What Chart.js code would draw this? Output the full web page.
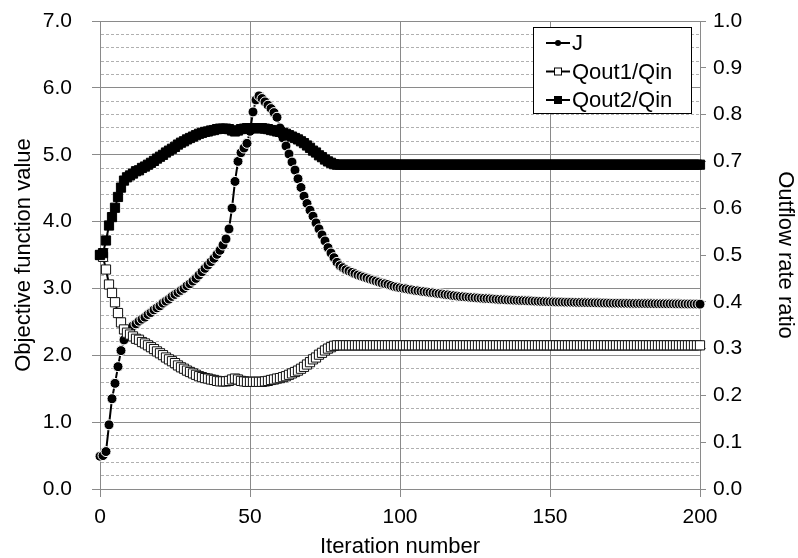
<!DOCTYPE html>
<html>
<head>
<meta charset="utf-8">
<script src="https://cdn.jsdelivr.net/npm/chart.js@4.4.0/dist/chart.umd.min.js"></script>
<style>
  body { margin: 0; background: #fff; }
  #wrap { width: 798px; height: 558px; }
</style>
</head>
<body>
<div id="wrap"><canvas id="optChart" width="798" height="558"></canvas></div>
<script>
// one value per iteration, 0..200
const jValues = [
  0.49, 0.50, 0.56, 0.96, 1.35, 1.58, 1.83, 2.07, 2.23, 2.33,
  2.40, 2.44, 2.47, 2.51, 2.54, 2.57, 2.61, 2.64, 2.68, 2.71,
  2.74, 2.78, 2.81, 2.84, 2.88, 2.91, 2.94, 2.97, 3.00, 3.04,
  3.07, 3.11, 3.15, 3.20, 3.25, 3.30, 3.35, 3.40, 3.45, 3.51,
  3.57, 3.65, 3.74, 3.89, 4.20, 4.60, 4.90, 5.03, 5.10, 5.17,
  5.35, 5.64, 5.82, 5.88, 5.84, 5.79, 5.74, 5.69, 5.63, 5.56,
  5.40, 5.25, 5.13, 5.01, 4.89, 4.77, 4.64, 4.51, 4.38, 4.27,
  4.17, 4.08, 3.98, 3.89, 3.80, 3.71, 3.61, 3.53, 3.46, 3.39,
  3.34, 3.31, 3.28, 3.26, 3.24, 3.22, 3.20, 3.185, 3.17, 3.155,
  3.14, 3.125, 3.11, 3.095, 3.08, 3.07, 3.06, 3.045, 3.03, 3.02,
  3.01, 3.002, 2.994, 2.986, 2.978, 2.970, 2.964, 2.958, 2.952, 2.946,
  2.940, 2.934, 2.928, 2.922, 2.916, 2.910, 2.904, 2.898, 2.892, 2.886,
  2.880, 2.876, 2.872, 2.868, 2.864, 2.860, 2.857, 2.854, 2.851, 2.848,
  2.845, 2.842, 2.839, 2.836, 2.833, 2.830, 2.828, 2.826, 2.824, 2.822,
  2.820, 2.818, 2.816, 2.814, 2.812, 2.810, 2.808, 2.806, 2.804, 2.802,
  2.800, 2.799, 2.798, 2.797, 2.796, 2.795, 2.794, 2.793, 2.792, 2.791,
  2.790, 2.789, 2.788, 2.787, 2.786, 2.785, 2.784, 2.783, 2.782, 2.781,
  2.780, 2.779, 2.779, 2.778, 2.778, 2.777, 2.777, 2.776, 2.776, 2.775,
  2.775, 2.774, 2.774, 2.773, 2.773, 2.772, 2.772, 2.771, 2.771, 2.770,
  2.770, 2.770, 2.769, 2.769, 2.768, 2.768, 2.767, 2.767, 2.766, 2.766,
  2.765
];

const qout1Ratio = [
  0.500, 0.496, 0.469, 0.437, 0.419, 0.399, 0.376, 0.356, 0.341, 0.334,
  0.330, 0.326, 0.321, 0.319, 0.314, 0.311, 0.307, 0.303, 0.299, 0.294,
  0.290, 0.286, 0.281, 0.277, 0.273, 0.269, 0.264, 0.260, 0.257, 0.253,
  0.250, 0.247, 0.244, 0.241, 0.239, 0.237, 0.236, 0.234, 0.233, 0.231,
  0.230, 0.230, 0.230, 0.231, 0.234, 0.236, 0.234, 0.231, 0.230, 0.229,
  0.229, 0.229, 0.229, 0.229, 0.229, 0.230, 0.231, 0.233, 0.234, 0.236,
  0.237, 0.239, 0.241, 0.244, 0.247, 0.250, 0.253, 0.257, 0.261, 0.266,
  0.271, 0.277, 0.281, 0.287, 0.291, 0.296, 0.300, 0.303, 0.306, 0.307,
  0.307, 0.307, 0.307, 0.307, 0.307, 0.307, 0.307, 0.307, 0.307, 0.307,
  0.307, 0.307, 0.307, 0.307, 0.307, 0.307, 0.307, 0.307, 0.307, 0.307,
  0.307, 0.307, 0.307, 0.307, 0.307, 0.307, 0.307, 0.307, 0.307, 0.307,
  0.307, 0.307, 0.307, 0.307, 0.307, 0.307, 0.307, 0.307, 0.307, 0.307,
  0.307, 0.307, 0.307, 0.307, 0.307, 0.307, 0.307, 0.307, 0.307, 0.307,
  0.307, 0.307, 0.307, 0.307, 0.307, 0.307, 0.307, 0.307, 0.307, 0.307,
  0.307, 0.307, 0.307, 0.307, 0.307, 0.307, 0.307, 0.307, 0.307, 0.307,
  0.307, 0.307, 0.307, 0.307, 0.307, 0.307, 0.307, 0.307, 0.307, 0.307,
  0.307, 0.307, 0.307, 0.307, 0.307, 0.307, 0.307, 0.307, 0.307, 0.307,
  0.307, 0.307, 0.307, 0.307, 0.307, 0.307, 0.307, 0.307, 0.307, 0.307,
  0.307, 0.307, 0.307, 0.307, 0.307, 0.307, 0.307, 0.307, 0.307, 0.307,
  0.307, 0.307, 0.307, 0.307, 0.307, 0.307, 0.307, 0.307, 0.307, 0.307,
  0.307
];

const qout2Ratio = [
  0.500, 0.504, 0.531, 0.563, 0.581, 0.601, 0.624, 0.644, 0.659, 0.666,
  0.670, 0.674, 0.679, 0.681, 0.686, 0.689, 0.693, 0.697, 0.701, 0.706,
  0.710, 0.714, 0.719, 0.723, 0.727, 0.731, 0.736, 0.740, 0.743, 0.747,
  0.750, 0.753, 0.756, 0.759, 0.761, 0.763, 0.764, 0.766, 0.767, 0.769,
  0.770, 0.770, 0.770, 0.769, 0.766, 0.764, 0.766, 0.769, 0.770, 0.771,
  0.771, 0.771, 0.771, 0.771, 0.771, 0.770, 0.769, 0.767, 0.766, 0.764,
  0.763, 0.761, 0.759, 0.756, 0.753, 0.750, 0.747, 0.743, 0.739, 0.734,
  0.729, 0.723, 0.719, 0.713, 0.709, 0.704, 0.700, 0.697, 0.694, 0.693,
  0.693, 0.693, 0.693, 0.693, 0.693, 0.693, 0.693, 0.693, 0.693, 0.693,
  0.693, 0.693, 0.693, 0.693, 0.693, 0.693, 0.693, 0.693, 0.693, 0.693,
  0.693, 0.693, 0.693, 0.693, 0.693, 0.693, 0.693, 0.693, 0.693, 0.693,
  0.693, 0.693, 0.693, 0.693, 0.693, 0.693, 0.693, 0.693, 0.693, 0.693,
  0.693, 0.693, 0.693, 0.693, 0.693, 0.693, 0.693, 0.693, 0.693, 0.693,
  0.693, 0.693, 0.693, 0.693, 0.693, 0.693, 0.693, 0.693, 0.693, 0.693,
  0.693, 0.693, 0.693, 0.693, 0.693, 0.693, 0.693, 0.693, 0.693, 0.693,
  0.693, 0.693, 0.693, 0.693, 0.693, 0.693, 0.693, 0.693, 0.693, 0.693,
  0.693, 0.693, 0.693, 0.693, 0.693, 0.693, 0.693, 0.693, 0.693, 0.693,
  0.693, 0.693, 0.693, 0.693, 0.693, 0.693, 0.693, 0.693, 0.693, 0.693,
  0.693, 0.693, 0.693, 0.693, 0.693, 0.693, 0.693, 0.693, 0.693, 0.693,
  0.693, 0.693, 0.693, 0.693, 0.693, 0.693, 0.693, 0.693, 0.693, 0.693,
  0.693
];

const seriesNames = ['J', 'Qout1/Qin', 'Qout2/Qin'];
const xTicks = [0, 50, 100, 150, 200];

const FONT = "'Liberation Sans', Arial, sans-serif";
const GRID_DARK = '#8a8a8a';
const GRID_LIGHT = '#b0b0b0';

Chart.defaults.font.family = FONT;
Chart.defaults.color = '#000';

const isWhole = v => Math.abs(v - Math.round(v)) < 1e-6;
const toPoints = arr => arr.map((v, i) => ({ x: i, y: v }));

// fixed axis widths; drop the label overhang so the plot starts where layout.padding says
const fixWidth = w => s => { s.width = w; s.paddingTop = 0; s.paddingBottom = 0; };

// legend drawn inside the plot, top right
const boxLegend = {
    id: 'boxLegend',
    afterDraw(chart) {
        const { ctx, chartArea } = chart;
        const x0 = Math.round(chartArea.right - 167);
        const y0 = Math.round(chartArea.top + 6);
        ctx.save();
        ctx.fillStyle = '#fff';
        ctx.fillRect(x0, y0, 158, 86);
        ctx.strokeStyle = '#000';
        ctx.lineWidth = 1;
        ctx.strokeRect(x0 + 0.5, y0 + 0.5, 158, 86);
        ctx.font = '22px ' + FONT;
        ctx.textBaseline = 'middle';
        chart.data.datasets.forEach((ds, i) => {
            const cy = y0 + 16 + i * 28.5;
            ctx.strokeStyle = '#000';
            ctx.lineWidth = 2;
            ctx.beginPath();
            ctx.moveTo(x0 + 13, cy);
            ctx.lineTo(x0 + 37, cy);
            ctx.stroke();
            const mx = x0 + 25;
            ctx.lineWidth = 1;
            if (ds.pointStyle === 'circle') {
                ctx.fillStyle = '#000';
                ctx.beginPath();
                ctx.arc(mx, cy, 3, 0, Math.PI * 2);
                ctx.fill();
            } else {
                ctx.fillStyle = ds.pointBackgroundColor;
                ctx.fillRect(mx - 3.5, cy - 3.5, 7, 7);
                ctx.strokeRect(mx - 3.5, cy - 3.5, 7, 7);
            }
            ctx.fillStyle = '#000';
            ctx.fillText(ds.label, x0 + 39, cy + 1);
        });
        ctx.restore();
    }
};

const ctx = document.getElementById('optChart').getContext('2d');
new Chart(ctx, {
    type: 'line',
    data: {
        datasets: [{
            label: seriesNames[0],
            data: toPoints(jValues),
            yAxisID: 'y',
            borderColor: '#000',
            borderWidth: 2,
            pointStyle: 'circle',
            pointRadius: 5,
            pointBackgroundColor: '#000',
            pointBorderColor: '#fff',
            pointBorderWidth: 1,
            clip: false,
            order: 3
        }, {
            label: seriesNames[1],
            data: toPoints(qout1Ratio),
            yAxisID: 'y2',
            borderColor: '#000',
            borderWidth: 2,
            pointStyle: 'rect',
            pointRadius: 6.5,
            pointBackgroundColor: '#fff',
            pointBorderColor: '#111',
            pointBorderWidth: 1,
            clip: false,
            order: 2
        }, {
            label: seriesNames[2],
            data: toPoints(qout2Ratio),
            yAxisID: 'y2',
            borderColor: '#000',
            borderWidth: 2,
            pointStyle: 'rect',
            pointRadius: 6.5,
            pointBackgroundColor: '#000',
            pointBorderColor: '#000',
            pointBorderWidth: 1,
            clip: false,
            order: 1
        }]
    },
    options: {
        responsive: false,
        animation: false,
        layout: { padding: { top: 21, left: 0, right: 0, bottom: 0 } },
        plugins: { legend: { display: false }, tooltip: { enabled: false } },
        scales: {
            x: {
                type: 'linear',
                min: 0,
                max: 200,
                afterBuildTicks: axis => { axis.ticks = xTicks.map(v => ({ value: v })); },
                afterFit: s => { s.height = 69; },
                grid: { color: GRID_DARK, tickColor: GRID_DARK, tickLength: 8 },
                border: { color: GRID_DARK },
                ticks: { font: { size: 21 }, padding: 8, maxRotation: 0 },
                title: { display: true, text: 'Iteration number', font: { size: 22, lineHeight: 1.05 }, padding: { top: 0, bottom: 0 } }
            },
            y: {
                position: 'left',
                min: 0,
                max: 7,
                afterFit: fixWidth(100),
                ticks: {
                    stepSize: 0.2,
                    autoSkip: false,
                    font: { size: 21 },
                    padding: 20,
                    callback: v => isWhole(v) ? v.toFixed(1) : ''
                },
                grid: {
                    color: c => (c.tick && isWhole(c.tick.value)) ? GRID_DARK : GRID_LIGHT,
                    tickColor: c => (c.tick && isWhole(c.tick.value)) ? GRID_DARK : 'rgba(0,0,0,0)',
                    tickLength: 8
                },
                border: {
                    color: GRID_DARK,
                    dash: c => (c.tick && !isWhole(c.tick.value)) ? [3, 2] : []
                },
                title: { display: true, text: 'Objective function value', font: { size: 22 }, padding: { top: 11, bottom: 0 } }
            },
            y2: {
                position: 'right',
                min: 0,
                max: 1,
                afterFit: fixWidth(98),
                ticks: {
                    stepSize: 0.1,
                    autoSkip: false,
                    font: { size: 21 },
                    padding: 7,
                    callback: v => v.toFixed(1)
                },
                grid: { drawOnChartArea: false, tickColor: GRID_DARK, tickLength: 6 },
                border: { color: GRID_DARK },
                title: { display: true, text: 'Outflow rate ratio', font: { size: 22 }, padding: { top: 0, bottom: 0 } }
            }
        }
    },
    plugins: [boxLegend]
});
</script>
</body>
</html>
